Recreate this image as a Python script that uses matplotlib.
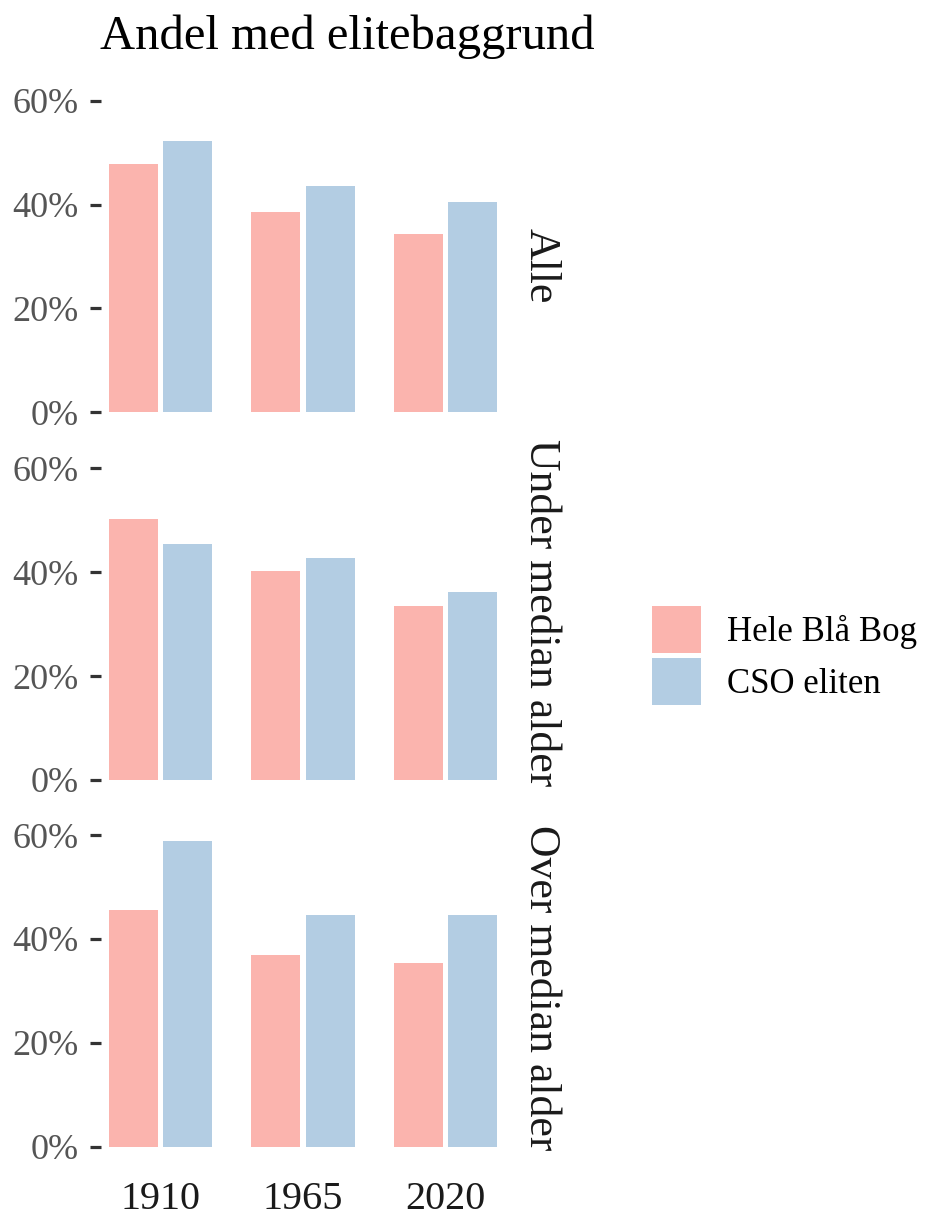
import matplotlib
matplotlib.use("Agg")
import matplotlib.pyplot as plt
from matplotlib.patches import Patch
import numpy as np

# ---- data ----
years = ["1910", "1965", "2020"]
panels = ["Alle", "Under median alder", "Over median alder"]
series = ["Hele Blå Bog", "CSO eliten"]
hele_alle = [47.7, 38.5, 34.3]
cso_alle = [52.2, 43.5, 40.4]
hele_under = [50.2, 40.2, 33.4]
cso_under = [45.4, 42.7, 36.2]
hele_over = [45.6, 36.9, 35.4]
cso_over = [58.9, 44.6, 44.6]
yticks = [0, 20, 40, 60]
ytick_labels = ["0%", "20%", "40%", "60%"]
title = "Andel med elitebaggrund"

colors = ["#FBB4AE", "#B3CDE3"]
serif = ["Liberation Serif", "DejaVu Serif"]
plt.rcParams["font.family"] = serif

fig = plt.figure(figsize=(9.31, 12.18), dpi=100)
W, H = 931, 1218

data = [(hele_alle, cso_alle), (hele_under, cso_under), (hele_over, cso_over)]
bottoms_px = [412.3, 780.0, 1146.7]
strip_centers_px = [266, 613, 988]
scale = 5.195  # px per percent
ymax = 62
left_px, right_px = 101, 505

x = np.arange(len(years))
bw = 0.345
off = 0.191

for i, ((h, c), b_px) in enumerate(zip(data, bottoms_px)):
    top_px = b_px - ymax * scale
    ax = fig.add_axes([left_px / W, 1 - b_px / H, (right_px - left_px) / W, (b_px - top_px) / H])
    ax.bar(x - off, h, width=bw, color=colors[0], linewidth=0)
    ax.bar(x + off, c, width=bw, color=colors[1], linewidth=0)
    ax.set_xlim(-0.42, 2.42)
    ax.set_ylim(0, ymax)
    for s in ax.spines.values():
        s.set_visible(False)
    ax.set_yticks(yticks)
    ax.set_yticklabels(ytick_labels)
    ax.tick_params(axis="y", length=8.2, width=2.3, color="#333333", pad=8,
                   labelsize=26, labelcolor="#555555")
    ax.set_xticks(x)
    if i == len(data) - 1:
        ax.set_xticklabels(years)
        ax.tick_params(axis="x", length=0, pad=25, labelsize=29, labelcolor="#1a1a1a")
    else:
        ax.set_xticklabels([])
        ax.tick_params(axis="x", length=0)
    fig.text(541 / W, 1 - strip_centers_px[i] / H, panels[i], rotation=270,
             ha="center", va="center", fontsize=31.5, color="#1a1a1a")

fig.text(100 / W, 1 - 49 / H, title, ha="left", va="baseline", fontsize=35, color="black")

handles = [Patch(facecolor=colors[0], edgecolor="none"), Patch(facecolor=colors[1], edgecolor="none")]
fig.legend(handles, series, loc="center left", bbox_to_anchor=(652 / W, 1 - 655.8 / H),
           frameon=False, fontsize=25, handlelength=1.4, handleheight=1.7,
           labelspacing=0.15, handletextpad=0.75, borderpad=0, borderaxespad=0)

fig.savefig("out.png", dpi=100, facecolor="white")
